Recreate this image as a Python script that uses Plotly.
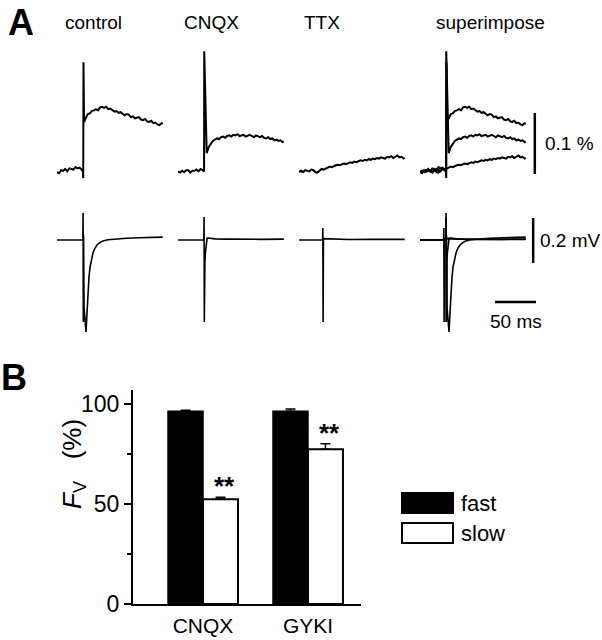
import plotly.graph_objects as go

# ---- panel A: optical (top, % dF/F) and field potential (bottom, mV) traces ----
# time in ms
ctl_top_t = [
    0, 2.5, 5, 7.5, 10, 12.5, 15, 17.5, 20, 22.5,
    25, 27.5, 30, 31.5, 32, 32.3, 33, 35, 37.5, 40,
    42.5, 45, 47.5, 50, 52.5, 55, 57.5, 60, 62.5, 65,
    67.5, 70, 72.5, 75, 77.5, 80, 82.5, 85, 87.5, 90,
    92.5, 95, 97.5, 100, 102.5, 105, 107.5, 110, 112.5, 115,
    117.5, 120, 122.5, 125, 127.5, 129]
ctl_top_v = [
    0.000, -0.002, 0.003, 0.002, 0.005, 0.001, 0.006, 0.005, 0.004, 0.008,
    0.006, 0.007, 0.003, 0.002, -0.010, 0.180, 0.082, 0.088, 0.095, 0.096,
    0.100, 0.101, 0.103, 0.101, 0.106, 0.107, 0.105, 0.107, 0.103, 0.104,
    0.101, 0.099, 0.100, 0.097, 0.098, 0.096, 0.093, 0.095, 0.094, 0.090,
    0.091, 0.088, 0.089, 0.090, 0.086, 0.085, 0.087, 0.083, 0.082, 0.084,
    0.080, 0.081, 0.078, 0.077, 0.080, 0.079]

cnqx_top_t = [
    0, 2.5, 5, 7.5, 10, 12.5, 15, 17.5, 20, 22.5,
    25, 27.5, 30, 31.8, 32, 35, 37.5, 40, 42.5, 45,
    47.5, 50, 52.5, 55, 57.5, 60, 62.5, 65, 67.5, 70,
    72.5, 75, 77.5, 80, 82.5, 85, 87.5, 90, 92.5, 95,
    97.5, 100, 102.5, 105, 107.5, 110, 112.5, 115, 117.5, 120,
    122.5, 125, 127.5, 129]
cnqx_top_v = [
    0.001, -0.001, 0.002, 0.000, 0.003, 0.003, -0.001, 0.002, 0.002, 0.004,
    0.001, 0.005, 0.003, 0.001, 0.198, 0.031, 0.041, 0.046, 0.051, 0.053,
    0.055, 0.054, 0.057, 0.058, 0.056, 0.059, 0.060, 0.058, 0.061, 0.060,
    0.062, 0.059, 0.060, 0.061, 0.058, 0.060, 0.061, 0.059, 0.057, 0.060,
    0.058, 0.057, 0.059, 0.056, 0.055, 0.057, 0.054, 0.055, 0.052, 0.053,
    0.051, 0.052, 0.049, 0.050]

ttx_top_t = [
    0, 2.5, 5, 7.5, 10, 12.5, 15, 17.5, 20, 22.5,
    25, 27.5, 30, 32.5, 35, 37.5, 40, 42.5, 45, 47.5,
    50, 52.5, 55, 57.5, 60, 62.5, 65, 67.5, 70, 72.5,
    75, 77.5, 80, 82.5, 85, 87.5, 90, 92.5, 95, 97.5,
    100, 102.5, 105, 107.5, 110, 112.5, 115, 117.5, 120, 122.5,
    125, 127.5, 129]
ttx_top_v = [
    0.000, 0.002, 0.000, 0.003, 0.002, 0.001, 0.004, 0.003, 0.000, -0.001,
    0.002, 0.005, 0.004, 0.006, 0.007, 0.009, 0.008, 0.010, 0.011, 0.012,
    0.011, 0.013, 0.014, 0.013, 0.015, 0.016, 0.015, 0.017, 0.016, 0.018,
    0.019, 0.018, 0.020, 0.019, 0.021, 0.020, 0.022, 0.021, 0.023, 0.022,
    0.024, 0.023, 0.022, 0.025, 0.024, 0.026, 0.023, 0.025, 0.027, 0.024,
    0.025, 0.022, 0.023]

ctl_bot_t = [0, 31.5, 31.8, 32.1, 32.4, 33.0, 34.0, 35.4, 36.5, 37.8, 39.0, 40.3,
             42.0, 43.9, 46.0, 48.8, 52.0, 56.0, 62.0, 70.8, 85, 100, 115, 129]
ctl_bot_v = [0, 0, 0.12, -0.364, 0.02, -0.30, -0.37, -0.409, -0.33, -0.222, -0.165, -0.12,
             -0.085, -0.058, -0.038, -0.022, -0.012, -0.004, 0.001, 0.004, 0.008, 0.010, 0.012, 0.013]

cnqx_bot_t = [0, 31.5, 31.8, 32.1, 32.4, 32.8, 33.3, 34.0, 35.5, 37.0, 45, 60, 80, 100, 129]
cnqx_bot_v = [0, 0, 0.102, -0.364, -0.02, -0.10, -0.06, -0.03, 0.008, 0.009, 0.005, 0.004, 0.003, 0.003, 0.004]

ttx_bot_t = [0, 28.8, 29.1, 29.4, 29.8, 31, 40, 60, 90, 129]
ttx_bot_v = [0, 0, 0.053, -0.364, 0.0, 0.006, 0.004, 0.002, 0.003, 0.003]

conditions = ["control", "CNQX", "TTX", "superimpose"]

# ---- panel B: bar chart ----
groups = ["CNQX", "GYKI"]
fast_vals = [96.5, 96.5]
fast_err = [0.5, 1.2]
slow_vals = [52.5, 77.5]
slow_err = [1.0, 2.8]

# scale bars
SCALE_PCT = 0.1
SCALE_MV = 0.2
SCALE_MS = 50

W, H = 602, 640
FONT = "Liberation Sans, Arial, sans-serif"
PX_PER_MS = 41 / 50
PCT_PER_PX = 0.1 / 61
MV_PER_PX = 0.2 / 45


def dom_x(a, b):
    return [a / W, b / W]


def dom_y(top, bottom):
    return [1 - bottom / H, 1 - top / H]


fig = go.Figure()
layout_axes = {}

col_left = [57, 178, 299, 420]
col_ms = [130, 130, 130, 150]
top_traces = [[(ctl_top_t, ctl_top_v)], [(cnqx_top_t, cnqx_top_v)], [(ttx_top_t, ttx_top_v)],
              [(ctl_top_t, ctl_top_v), (cnqx_top_t, cnqx_top_v), (ttx_top_t, ttx_top_v)]]
bot_traces = [[(ctl_bot_t, ctl_bot_v)], [(cnqx_bot_t, cnqx_bot_v)], [(ttx_bot_t, ttx_bot_v)],
              [(ttx_bot_t, ttx_bot_v), (cnqx_bot_t, cnqx_bot_v), (ctl_bot_t, ctl_bot_v)]]

for i in range(4):
    xd = dom_x(col_left[i], col_left[i] + col_ms[i] * PX_PER_MS)
    # top row (optical signal, %)
    n = i + 1
    layout_axes["xaxis" if n == 1 else f"xaxis{n}"] = dict(domain=xd, range=[0, col_ms[i]], visible=False,
                                                           anchor=f"y{n}", automargin=False)
    layout_axes["yaxis" if n == 1 else f"yaxis{n}"] = dict(domain=dom_y(45, 185), visible=False, anchor=f"x{n}",
                                                           automargin=False,
                                                           range=[-(185 - 172) * PCT_PER_PX, (172 - 45) * PCT_PER_PX])
    for t, v in top_traces[i]:
        assert len(t) == len(v)
        fig.add_trace(go.Scatter(x=t, y=v, mode="lines", line=dict(color="black", width=2),
                                 xaxis=f"x{n}", yaxis=f"y{n}", showlegend=False, hoverinfo="skip"))
    # bottom row (field potential, mV)
    m = i + 5
    layout_axes[f"xaxis{m}"] = dict(domain=xd, range=[0, col_ms[i]], visible=False, anchor=f"y{m}", automargin=False)
    layout_axes[f"yaxis{m}"] = dict(domain=dom_y(205, 345), visible=False, anchor=f"x{m}", automargin=False,
                                    range=[-(345 - 240) * MV_PER_PX, (240 - 205) * MV_PER_PX])
    for t, v in bot_traces[i]:
        assert len(t) == len(v)
        fig.add_trace(go.Scatter(x=t, y=v, mode="lines", line=dict(color="black", width=1.6),
                                 xaxis=f"x{m}", yaxis=f"y{m}", showlegend=False, hoverinfo="skip"))

# bar chart axes
layout_axes["xaxis9"] = dict(domain=dom_x(133, 361), range=[-0.667, 1.505], anchor="y9", automargin=False,
                             showline=True, linecolor="black", linewidth=2, ticks="",
                             tickfont=dict(size=21, color="black", family=FONT), ticklabelstandoff=2,
                             showgrid=False, zeroline=False, fixedrange=True)
layout_axes["yaxis9"] = dict(domain=dom_y(390, 604), range=[0, 107.2], anchor="x9", automargin=False,
                             showline=True, linecolor="black", linewidth=2, ticks="outside",
                             tickvals=[0, 50, 100], ticklen=7, tickwidth=2, tickcolor="black",
                             minor=dict(dtick=25, ticks="outside", ticklen=4, tickwidth=2, tickcolor="black"),
                             tickfont=dict(size=23, color="black", family=FONT),
                             showgrid=False, zeroline=False, fixedrange=True)

fig.add_trace(go.Bar(x=groups, y=fast_vals, name="fast", marker=dict(color="black", line=dict(color="black", width=1.5)),
                     error_y=dict(type="data", array=fast_err, arrayminus=[0, 0], symmetric=False,
                                  color="black", thickness=1.5, width=5),
                     xaxis="x9", yaxis="y9", showlegend=False))
fig.add_trace(go.Bar(x=groups, y=slow_vals, name="slow", marker=dict(color="white", line=dict(color="black", width=2)),
                     error_y=dict(type="data", array=slow_err, arrayminus=[0, 0], symmetric=False,
                                  color="black", thickness=1.5, width=5),
                     xaxis="x9", yaxis="y9", showlegend=False))

# scale bars (superimpose column)
bar_t = 140
shapes = [
    dict(type="line", xref="x4", yref="y4", x0=bar_t, x1=bar_t, y0=-0.0033, y1=-0.0033 + SCALE_PCT,
         line=dict(color="black", width=2.5)),
    dict(type="line", xref="x8", yref="y8", x0=138, x1=138, y0=-0.102, y1=-0.102 + SCALE_MV,
         line=dict(color="black", width=2.5)),
    dict(type="line", xref="x8", yref="y8", x0=91.5, x1=91.5 + SCALE_MS, y0=-0.2756, y1=-0.2756,
         line=dict(color="black", width=2.5)),
    # legend swatches
    dict(type="rect", xref="paper", yref="paper", x0=402 / W, x1=453 / W, y0=1 - 513 / H, y1=1 - 493 / H,
         fillcolor="black", line=dict(color="black", width=2)),
    dict(type="rect", xref="paper", yref="paper", x0=402 / W, x1=453 / W, y0=1 - 543 / H, y1=1 - 523 / H,
         fillcolor="white", line=dict(color="black", width=2)),
]

txt = dict(color="black", family=FONT)
annotations = [
    dict(text="<b>A</b>", x=6 / W, y=1 - 22 / H, xref="paper", yref="paper", xanchor="left", yanchor="middle",
         showarrow=False, font=dict(size=36, **txt)),
    dict(text="<b>B</b>", x=-1 / W, y=1 - 377 / H, xref="paper", yref="paper", xanchor="left", yanchor="middle",
         showarrow=False, font=dict(size=36, **txt)),
    dict(text="0.1 %", x=150, y=0.046, xref="x4", yref="y4", xanchor="left", yanchor="middle",
         showarrow=False, font=dict(size=19, **txt)),
    dict(text="0.2 mV", x=144, y=0.0, xref="x8", yref="y8", xanchor="left", yanchor="middle",
         showarrow=False, font=dict(size=19, **txt)),
    dict(text="50 ms", x=116.5, y=-0.364, xref="x8", yref="y8", xanchor="center", yanchor="middle",
         showarrow=False, font=dict(size=19, **txt)),
    dict(text="fast", x=459 / W, y=1 - 503 / H, xref="paper", yref="paper", xanchor="left", yanchor="middle",
         showarrow=False, font=dict(size=22, **txt)),
    dict(text="slow", x=459 / W, y=1 - 533 / H, xref="paper", yref="paper", xanchor="left", yanchor="middle",
         showarrow=False, font=dict(size=22, **txt)),
    dict(text="<i>F</i><sub>V</sub>\u00a0\u00a0 (%)", x=73 / W, y=1 - 464 / H, xref="paper", yref="paper",
         textangle=-90, xanchor="center", yanchor="middle", showarrow=False, font=dict(size=26, **txt)),
]
title_x = [93, 212, 322, 490]
for name, cx in zip(conditions, title_x):
    annotations.append(dict(text=name, x=cx / W, y=1 - 22 / H, xref="paper", yref="paper",
                            xanchor="center", yanchor="middle", showarrow=False, font=dict(size=19, **txt)))
for k, g in enumerate(groups):
    annotations.append(dict(text="<b>**</b>", x=k + 1 / 6, y=slow_vals[k] + slow_err[k], xref="x9", yref="y9",
                            xanchor="center", yanchor="bottom", xshift=4, yshift=-6, showarrow=False,
                            font=dict(size=26, **txt)))

fig.update_layout(
    width=W, height=H,
    margin=dict(l=0, r=0, t=0, b=0),
    paper_bgcolor="white", plot_bgcolor="white",
    barmode="group", bargap=1 / 3, bargroupgap=0,
    font=dict(family=FONT, color="black"),
    shapes=shapes, annotations=annotations,
    **layout_axes,
)

# page body has a default 8px margin; drop it so the 602x640 figure fills the window
fig.write_html("out.html", config={"displayModeBar": False},
               post_script="document.body.style.margin='0';document.body.style.overflow='hidden';")
